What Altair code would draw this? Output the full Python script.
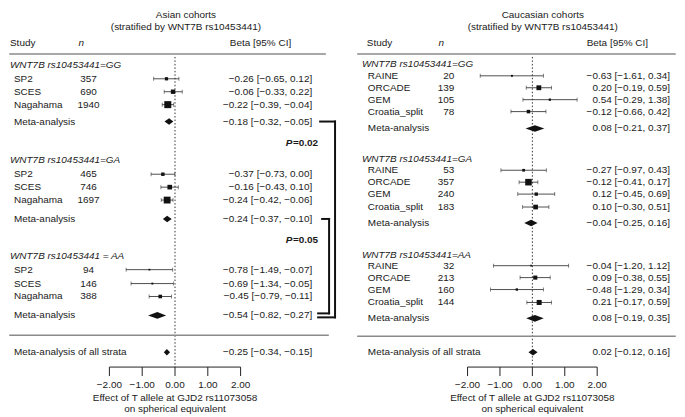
import altair as alt
import pandas as pd

# ---------------- data ----------------
asian_title = ["Asian cohorts", "(stratified by WNT7B rs10453441)"]
asian_strata = ["WNT7B rs10453441=GG", "WNT7B rs10453441=GA", "WNT7B rs10453441 = AA"]
asian_studies = ["SP2", "SCES", "Nagahama"]
asian_n = [[357, 690, 1940], [465, 746, 1697], [94, 146, 388]]
asian_beta = [[-0.26, -0.06, -0.22], [-0.37, -0.16, -0.24], [-0.78, -0.69, -0.45]]
asian_lo = [[-0.65, -0.33, -0.39], [-0.73, -0.43, -0.42], [-1.49, -1.34, -0.79]]
asian_hi = [[0.12, 0.22, -0.04], [0.00, 0.10, -0.06], [-0.07, -0.05, -0.11]]
asian_weight = [[5.9, 10.8, 27.5], [6.6, 12.1, 26.2], [1.7, 2.0, 7.3]]
asian_meta_beta = [-0.18, -0.24, -0.54]
asian_meta_lo = [-0.32, -0.37, -0.82]
asian_meta_hi = [-0.05, -0.10, -0.27]
asian_all = [-0.25, -0.34, -0.15]
asian_p = ["0.02", "0.05"]

cauc_title = ["Caucasian cohorts", "(stratified by WNT7B rs10453441)"]
cauc_strata = ["WNT7B rs10453441=GG", "WNT7B rs10453441=GA", "WNT7B rs10453441=AA"]
cauc_studies = ["RAINE", "ORCADE", "GEM", "Croatia_split"]
cauc_n = [[20, 139, 105, 78], [53, 357, 240, 183], [32, 213, 160, 144]]
cauc_beta = [[-0.63, 0.20, 0.54, -0.12], [-0.27, -0.12, 0.12, 0.10], [-0.04, 0.09, -0.48, 0.21]]
cauc_lo = [[-1.61, -0.19, -0.29, -0.66], [-0.97, -0.41, -0.45, -0.30], [-1.20, -0.38, -1.29, -0.17]]
cauc_hi = [[0.34, 0.59, 1.38, 0.42], [0.43, 0.17, 0.69, 0.51], [1.12, 0.55, 0.34, 0.59]]
cauc_weight = [[2.1, 13.2, 2.9, 6.9], [4.1, 24.1, 6.2, 12.3], [1.5, 9.4, 3.1, 14.1]]
cauc_meta_beta = [0.08, -0.04, 0.08]
cauc_meta_lo = [-0.21, -0.25, -0.19]
cauc_meta_hi = [0.37, 0.16, 0.35]
cauc_all = [0.02, -0.12, 0.16]

axis_ticks = [-2, -1, 0, 1, 2]
col_heads = ["Study", "n", "Beta [95% CI]"]
x_title = ["Effect of T allele at GJD2 rs11073058", "on spherical equivalent"]

# ---------------- layout ----------------
FONT = "Liberation Sans"
TXT = "#1a1a1a"
H = 408


def Y(ref):
    return round(ref - 8, 2)


LEFT = dict(width=342, zero=166, ppu=33.0, title_x=177, strata_x=0, study_x=4,
            head_study_x=0, head_n_x=69, beta_head_x=252, n_x=79, n_align="center",
            ci_x=304, top_rule=(0, 317), bot_rule=(0, 320), bot_rule_y=336,
            strata_y=[64, 160, 256],
            study_y=[[78, 91, 104], [174, 187, 200], [270, 284, 297]],
            meta_y=[121, 219, 316], all_y=353, p_y=[143, 240], p_x=310,
            br_outer=(312, 327), br_inner=(314, 321))
RIGHT = dict(width=327, zero=183.5, ppu=32.6, title_x=194, strata_x=12, study_x=18,
             head_study_x=17, head_n_x=89, beta_head_x=269, n_x=105, n_align="right",
             ci_x=322, top_rule=(8, 327), bot_rule=(8, 327), bot_rule_y=337,
             strata_y=[63, 159, 255],
             study_y=[[75, 87, 99, 111], [170, 182, 194, 207], [266, 278, 290, 303]],
             meta_y=[128, 223, 319], all_y=353, p_y=None, p_x=None)


def fmt(v):
    s = f"{abs(v):.2f}"
    return ("\u2212" + s) if v < 0 else s


def ci_text(b, l, h):
    return f"{fmt(b)} [{fmt(l)}, {fmt(h)}]"


ONE = pd.DataFrame({"k": [0]})


def seg(x1, x2, y1, y2, color="#111", width=2.0):
    return alt.Chart(ONE).mark_rule(color=color, strokeWidth=width, strokeCap="square").encode(
        x=alt.value(x1), x2=alt.value(x2), y=alt.value(Y(y1)), y2=alt.value(Y(y2)))


def panel(g, title, strata, studies, n, beta, lo, hi, wt, mb, ml, mh, allv, pvals):
    xs = alt.Scale(domain=[-g["zero"] / g["ppu"], (g["width"] - g["zero"]) / g["ppu"]],
                   nice=False, zero=False)
    ys = alt.Scale(domain=[0, H], reverse=True, nice=False, zero=False)

    def X(f):
        return alt.X(f, type="quantitative", scale=xs, axis=None)

    def YY(f):
        return alt.Y(f, type="quantitative", scale=ys, axis=None)

    def txt(df, x_px, align="left", style="normal", weight="normal", size=10):
        return alt.Chart(df).mark_text(align=align, baseline="middle", font=FONT, fontSize=size,
                                       fontStyle=style, fontWeight=weight, color=TXT).encode(
            x=alt.value(x_px), y=YY("y"), text=alt.Text("text:N"))

    srows = []
    for i in range(3):
        for j, s in enumerate(studies):
            srows.append(dict(name=s, n=str(n[i][j]), beta=beta[i][j], lo=lo[i][j], hi=hi[i][j],
                              w=wt[i][j], y=Y(g["study_y"][i][j]),
                              ci=ci_text(beta[i][j], lo[i][j], hi[i][j])))
    sdf = pd.DataFrame(srows)
    mrows = [dict(name="Meta-analysis", beta=mb[i], lo=ml[i], hi=mh[i], y=Y(g["meta_y"][i]),
                  ci=ci_text(mb[i], ml[i], mh[i])) for i in range(3)]
    mrows.append(dict(name="Meta-analysis of all strata", beta=allv[0], lo=allv[1], hi=allv[2],
                      y=Y(g["all_y"]), ci=ci_text(*allv)))
    mdf = pd.DataFrame(mrows)

    dia = []
    hh = 3.3
    for k, r in enumerate(mrows):
        dia += [dict(id=k, x=r["lo"], ya=r["y"], yb=r["y"]),
                dict(id=k, x=r["beta"], ya=r["y"] - hh, yb=r["y"] + hh),
                dict(id=k, x=r["hi"], ya=r["y"], yb=r["y"])]
    ddf = pd.DataFrame(dia)

    caps = pd.concat([sdf[["lo", "y"]].rename(columns={"lo": "x"}),
                      sdf[["hi", "y"]].rename(columns={"hi": "x"})], ignore_index=True)

    layers = []
    # zero reference line
    layers.append(alt.Chart(pd.DataFrame({"x": [0], "y1": [Y(56)], "y2": [Y(368)]}))
                  .mark_rule(color="#333", strokeDash=[1.5, 2], strokeWidth=1)
                  .encode(x=X("x"), y=YY("y1"), y2="y2"))
    # header / bottom rules
    layers.append(seg(g["top_rule"][0], g["top_rule"][1], 53, 53, color="#8a8a8a", width=1.5))
    layers.append(seg(g["bot_rule"][0], g["bot_rule"][1], g["bot_rule_y"], g["bot_rule_y"],
                      color="#8a8a8a", width=1.5))
    # whiskers
    layers.append(alt.Chart(sdf).mark_rule(color="#222", strokeWidth=0.8)
                  .encode(x=X("lo"), x2="hi", y=YY("y")))
    layers.append(alt.Chart(caps).mark_tick(orient="vertical", size=4, thickness=0.8, color="#222")
                  .encode(x=X("x"), y=YY("y")))
    layers.append(alt.Chart(sdf).mark_square(filled=True, color="#111", opacity=1)
                  .encode(x=X("beta"), y=YY("y"),
                          size=alt.Size("w:Q", scale=alt.Scale(domain=[0, 30], range=[0, 54]),
                                        legend=None)))
    layers.append(alt.Chart(ddf).mark_area(orient="vertical", color="#111")
                  .encode(x=X("x"), y=YY("ya"), y2="yb", detail="id:N"))

    # axis
    yax = Y(368)
    layers.append(alt.Chart(pd.DataFrame({"a": [axis_ticks[0]], "b": [axis_ticks[-1]], "y": [yax]}))
                  .mark_rule(color="#222", strokeWidth=1).encode(x=X("a"), x2="b", y=YY("y")))
    tdf = pd.DataFrame({"t": axis_ticks, "y1": [yax] * 5, "y2": [Y(377)] * 5,
                        "text": [fmt(t) for t in axis_ticks], "y": [Y(386)] * 5})
    layers.append(alt.Chart(tdf).mark_rule(color="#222", strokeWidth=1)
                  .encode(x=X("t"), y=YY("y1"), y2="y2"))
    layers.append(alt.Chart(tdf).mark_text(align="center", baseline="middle", font=FONT,
                                           fontSize=10, color=TXT)
                  .encode(x=X("t"), y=YY("y"), text="text:N"))
    xt = pd.DataFrame({"x": [0, 0], "y": [Y(399), Y(410)], "text": x_title})
    layers.append(alt.Chart(xt).mark_text(align="center", baseline="middle", font=FONT,
                                          fontSize=10, color=TXT)
                  .encode(x=X("x"), y=YY("y"), text="text:N"))

    # titles and headers
    layers.append(txt(pd.DataFrame({"y": [Y(13.5), Y(25.5)], "text": title}), g["title_x"], "center"))
    layers.append(txt(pd.DataFrame({"y": [Y(42)], "text": [col_heads[0]]}), g["head_study_x"]))
    layers.append(txt(pd.DataFrame({"y": [Y(42)], "text": [col_heads[1]]}), g["head_n_x"],
                      style="italic"))
    layers.append(txt(pd.DataFrame({"y": [Y(42)], "text": [col_heads[2]]}), g["beta_head_x"],
                      "center"))
    layers.append(txt(pd.DataFrame({"y": [Y(v) for v in g["strata_y"]], "text": strata}),
                      g["strata_x"], style="italic"))
    names = pd.concat([sdf[["name", "y"]], mdf[["name", "y"]]]).rename(columns={"name": "text"})
    layers.append(txt(names, g["study_x"]))
    layers.append(txt(sdf[["n", "y"]].rename(columns={"n": "text"}), g["n_x"], g["n_align"]))
    cis = pd.concat([sdf[["ci", "y"]], mdf[["ci", "y"]]]).rename(columns={"ci": "text"})
    layers.append(txt(cis, g["ci_x"], "right"))

    if pvals:
        layers.append(txt(pd.DataFrame({"y": [Y(v) for v in g["p_y"]], "text": ["P", "P"]}),
                          g["p_x"] - 26, "right", style="italic", weight="bold"))
        layers.append(txt(pd.DataFrame({"y": [Y(v) for v in g["p_y"]],
                                        "text": ["=" + p for p in pvals]}),
                          g["p_x"], "right", weight="bold"))
        m = g["meta_y"]
        o0, o1 = g["br_outer"]
        i0, i1 = g["br_inner"]
        # outer bracket: GG meta -> AA meta
        layers.append(seg(o0, o1, m[0], m[0]))
        layers.append(seg(o1, o1, m[0], m[2] + 2))
        layers.append(seg(o0 - 2, o1, m[2] + 2, m[2] + 2))
        # inner bracket: GA meta -> AA meta
        layers.append(seg(i0, i1, m[1], m[1]))
        layers.append(seg(i1, i1, m[1], m[2] - 2))
        layers.append(seg(o0 - 2, i1, m[2] - 2, m[2] - 2))

    return alt.layer(*layers).properties(width=g["width"], height=H)


left = panel(LEFT, asian_title, asian_strata, asian_studies, asian_n, asian_beta, asian_lo,
             asian_hi, asian_weight, asian_meta_beta, asian_meta_lo, asian_meta_hi, asian_all,
             asian_p)
right = panel(RIGHT, cauc_title, cauc_strata, cauc_studies, cauc_n, cauc_beta, cauc_lo, cauc_hi,
              cauc_weight, cauc_meta_beta, cauc_meta_lo, cauc_meta_hi, cauc_all, None)

chart = (alt.hconcat(left, right, spacing=0)
         .resolve_scale(x="independent", y="independent")
         .properties(padding=0, background="white")
         .configure_view(strokeWidth=0))

chart.save("out.html", embed_options={"renderer": "svg", "actions": False})
